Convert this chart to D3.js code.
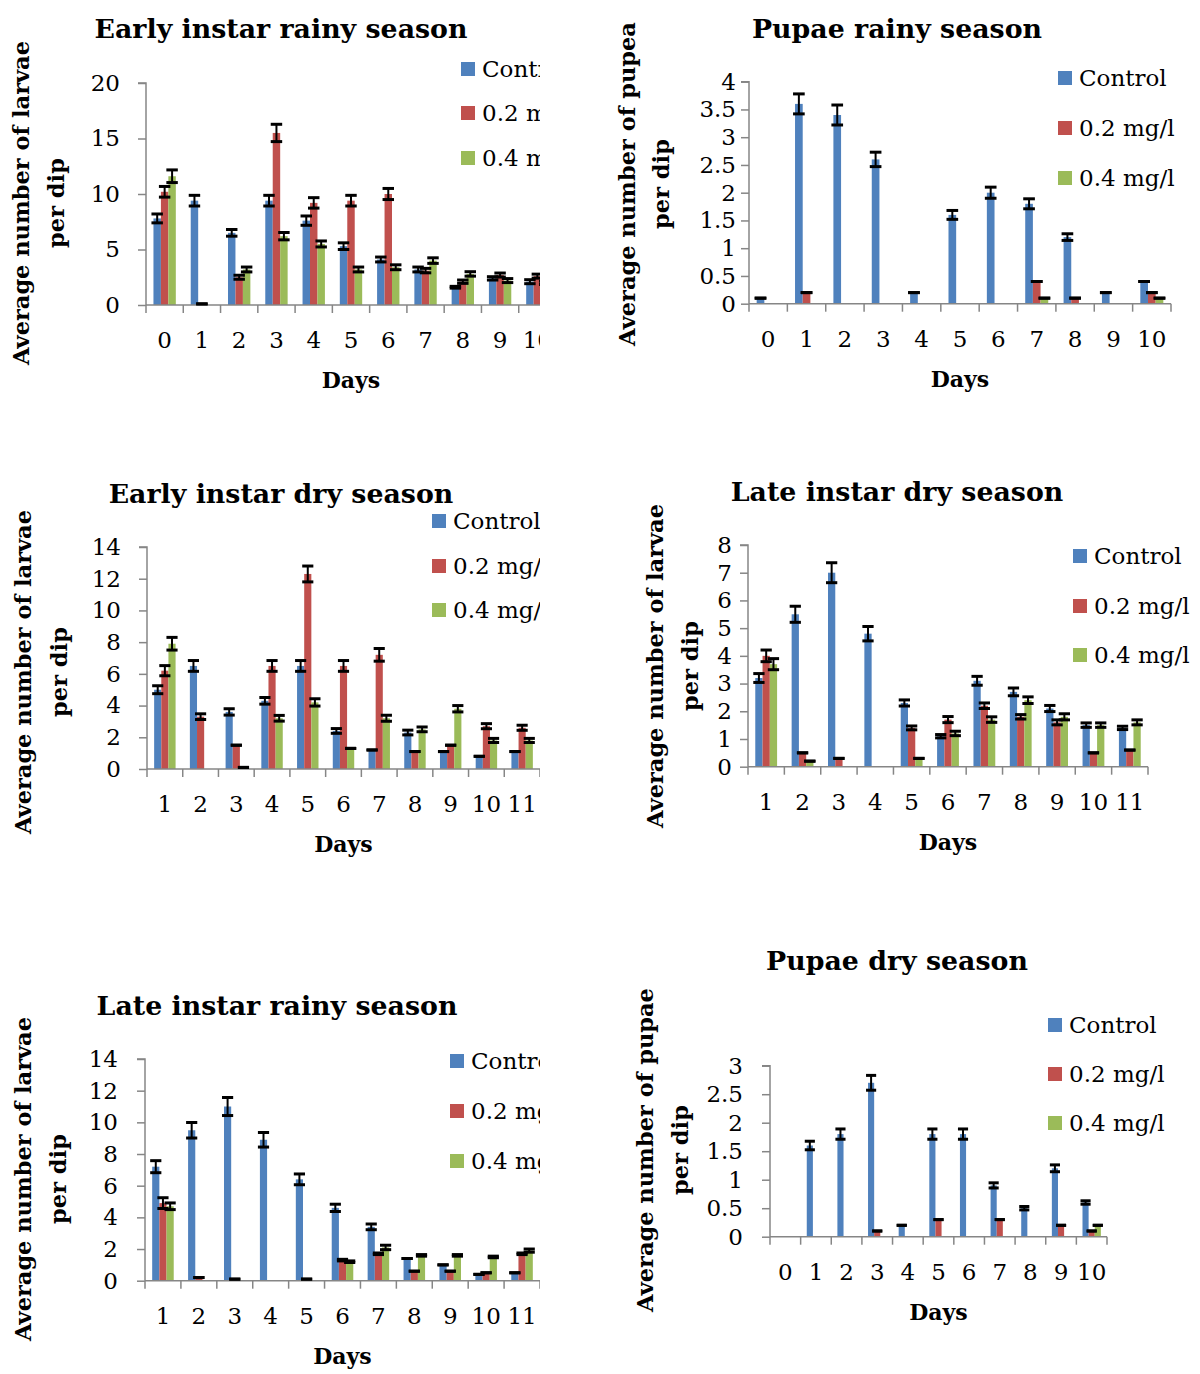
<!DOCTYPE html>
<html><head><meta charset="utf-8">
<script src="https://cdn.jsdelivr.net/npm/d3@7"></script>
<style>body{margin:0;background:#fff}svg{display:block}</style>
</head><body>
<svg id="c" width="1200" height="1374"></svg>
<script>
// ---------- DATA ----------
const seriesNames = ["Control", "0.2 mg/l", "0.4 mg/l"];

const earlyRainyDays = ["0","1","2","3","4","5","6","7","8","9","10"];
const earlyRainyControl = [7.8, 9.4, 6.5, 9.4, 7.6, 5.3, 4.1, 3.2, 1.6, 2.4, 2.1];
const earlyRainyLow     = [10.2, 0.1, 2.5, 15.5, 9.2, 9.4, 10.0, 3.1, 2.1, 2.7, 2.6];
const earlyRainyHigh    = [11.6, 0, 3.2, 6.2, 5.5, 3.2, 3.4, 4.0, 2.8, 2.2, 2.0];
const earlyRainyControlErr = [0.4, 0.48, 0.3, 0.48, 0.42, 0.3, 0.22, 0.22, 0.08, 0.15, 0.18];
const earlyRainyLowErr     = [0.48, 0, 0.18, 0.78, 0.47, 0.48, 0.5, 0.2, 0.15, 0.18, 0.18];
const earlyRainyHighErr    = [0.57, 0, 0.22, 0.33, 0.27, 0.22, 0.22, 0.25, 0.2, 0.18, 0.15];
const earlyRainyTicks = [0, 5, 10, 15, 20];

const pupaeRainyDays = ["0","1","2","3","4","5","6","7","8","9","10"];
const pupaeRainyControl = [0.1, 3.6, 3.4, 2.6, 0.2, 1.6, 2.0, 1.8, 1.2, 0.2, 0.4];
const pupaeRainyLow     = [0, 0.2, 0, 0, 0, 0, 0, 0.4, 0.1, 0, 0.2];
const pupaeRainyHigh    = [0, 0, 0, 0, 0, 0, 0, 0.1, 0, 0, 0.1];
const pupaeRainyControlErr = [0, 0.18, 0.18, 0.13, 0, 0.08, 0.1, 0.09, 0.06, 0, 0];
const pupaeRainyLowErr     = [0, 0, 0, 0, 0, 0, 0, 0, 0, 0, 0];
const pupaeRainyHighErr    = [0, 0, 0, 0, 0, 0, 0, 0, 0, 0, 0];
const pupaeRainyTicks = [0, 0.5, 1, 1.5, 2, 2.5, 3, 3.5, 4];

const earlyDryDays = ["1","2","3","4","5","6","7","8","9","10","11"];
const earlyDryControl = [5.0, 6.5, 3.6, 4.3, 6.5, 2.4, 1.2, 2.3, 1.1, 0.8, 1.1];
const earlyDryLow     = [6.2, 3.3, 1.5, 6.5, 12.3, 6.5, 7.2, 1.1, 1.5, 2.7, 2.6];
const earlyDryHigh    = [7.9, 0, 0.1, 3.2, 4.2, 1.3, 3.2, 2.5, 3.8, 1.8, 1.8];
const earlyDryControlErr = [0.25, 0.34, 0.2, 0.21, 0.34, 0.15, 0, 0.15, 0, 0, 0];
const earlyDryLowErr     = [0.32, 0.18, 0, 0.34, 0.5, 0.34, 0.4, 0, 0, 0.16, 0.16];
const earlyDryHighErr    = [0.4, 0, 0, 0.18, 0.23, 0, 0.19, 0.15, 0.2, 0.13, 0.13];
const earlyDryTicks = [0, 2, 4, 6, 8, 10, 12, 14];

const lateDryDays = ["1","2","3","4","5","6","7","8","9","10","11"];
const lateDryControl = [3.2, 5.5, 7.0, 4.8, 2.3, 1.1, 3.1, 2.7, 2.1, 1.5, 1.4];
const lateDryLow     = [4.0, 0.5, 0.3, 0, 1.4, 1.7, 2.2, 1.8, 1.6, 0.5, 0.6];
const lateDryHigh    = [3.7, 0.2, 0, 0, 0.3, 1.2, 1.7, 2.4, 1.8, 1.5, 1.6];
const lateDryControlErr = [0.16, 0.29, 0.36, 0.26, 0.11, 0.06, 0.16, 0.14, 0.11, 0.08, 0.06];
const lateDryLowErr     = [0.21, 0, 0, 0, 0.07, 0.11, 0.1, 0.08, 0.09, 0, 0];
const lateDryHighErr    = [0.2, 0, 0, 0, 0, 0.08, 0.1, 0.12, 0.11, 0.08, 0.09];
const lateDryTicks = [0, 1, 2, 3, 4, 5, 6, 7, 8];

const lateRainyDays = ["1","2","3","4","5","6","7","8","9","10","11"];
const lateRainyControl = [7.2, 9.5, 11.0, 8.9, 6.4, 4.6, 3.4, 1.4, 1.0, 0.4, 0.5];
const lateRainyLow     = [4.9, 0.2, 0.1, 0, 0.1, 1.3, 1.7, 0.6, 0.6, 0.5, 1.7];
const lateRainyHigh    = [4.7, 0, 0, 0, 0, 1.2, 2.1, 1.6, 1.6, 1.5, 1.9];
const lateRainyControlErr = [0.38, 0.49, 0.57, 0.46, 0.34, 0.23, 0.18, 0, 0, 0, 0];
const lateRainyLowErr     = [0.34, 0, 0, 0, 0, 0.05, 0.05, 0, 0, 0, 0.05];
const lateRainyHighErr    = [0.21, 0, 0, 0, 0, 0.05, 0.14, 0.05, 0.05, 0.05, 0.1];
const lateRainyTicks = [0, 2, 4, 6, 8, 10, 12, 14];

const pupaeDryDays = ["0","1","2","3","4","5","6","7","8","9","10"];
const pupaeDryControl = [0, 1.6, 1.8, 2.7, 0.2, 1.8, 1.8, 0.9, 0.5, 1.2, 0.6];
const pupaeDryLow     = [0, 0, 0, 0.1, 0, 0.3, 0, 0.3, 0, 0.2, 0.1];
const pupaeDryHigh    = [0, 0, 0, 0, 0, 0, 0, 0, 0, 0, 0.2];
const pupaeDryControlErr = [0, 0.075, 0.09, 0.13, 0, 0.09, 0.09, 0.045, 0.03, 0.06, 0.03];
const pupaeDryLowErr     = [0, 0, 0, 0, 0, 0, 0, 0, 0, 0, 0];
const pupaeDryHighErr    = [0, 0, 0, 0, 0, 0, 0, 0, 0, 0, 0];
const pupaeDryTicks = [0, 0.5, 1, 1.5, 2, 2.5, 3];

// ---------- STYLE / LAYOUT ----------
const colors = ["#4F81BD", "#C0504D", "#9BBB59"];
const axisColor = "#868686";
const FONT = "'DejaVu Serif', serif";

const panels = [
  {title:"Early instar rainy season", ytitle:"Average number of larvae",
   days:earlyRainyDays, vals:[earlyRainyControl, earlyRainyLow, earlyRainyHigh],
   errs:[earlyRainyControlErr, earlyRainyLowErr, earlyRainyHighErr], ticks:earlyRainyTicks,
   x0:146, x1:556, y0:305, y1:83, clip:540, titleX:281, titleY:28, yt1:21, yt2:56, ytY:203,
   labGap:26, legX:461, legY:[69,113,158]},
  {title:"Pupae rainy season", ytitle:"Average number of pupea",
   days:pupaeRainyDays, vals:[pupaeRainyControl, pupaeRainyLow, pupaeRainyHigh],
   errs:[pupaeRainyControlErr, pupaeRainyLowErr, pupaeRainyHighErr], ticks:pupaeRainyTicks,
   x0:749, x1:1171, y0:303.7, y1:81.7, clip:1200, titleX:897, titleY:28, yt1:627, yt2:661, ytY:184,
   labGap:13, legX:1058, legY:[78,128,178]},
  {title:"Early instar dry season", ytitle:"Average number of larvae",
   days:earlyDryDays, vals:[earlyDryControl, earlyDryLow, earlyDryHigh],
   errs:[earlyDryControlErr, earlyDryLowErr, earlyDryHighErr], ticks:earlyDryTicks,
   x0:147, x1:540, y0:769, y1:547, clip:540, titleX:281, titleY:493, yt1:23, yt2:59, ytY:672,
   labGap:26, legX:432, legY:[521,566,610]},
  {title:"Late instar dry season", ytitle:"Average number of larvae",
   days:lateDryDays, vals:[lateDryControl, lateDryLow, lateDryHigh],
   errs:[lateDryControlErr, lateDryLowErr, lateDryHighErr], ticks:lateDryTicks,
   x0:748, x1:1148, y0:766.7, y1:545, clip:1192, titleX:897, titleY:491, yt1:655, yt2:690, ytY:666,
   labGap:16, legX:1073, legY:[556,606,655]},
  {title:"Late instar rainy season", ytitle:"Average number of larvae",
   days:lateRainyDays, vals:[lateRainyControl, lateRainyLow, lateRainyHigh],
   errs:[lateRainyControlErr, lateRainyLowErr, lateRainyHighErr], ticks:lateRainyTicks,
   x0:145, x1:540, y0:1280.7, y1:1059, clip:540, titleX:277, titleY:1005, yt1:23, yt2:58, ytY:1179,
   labGap:27, legX:450, legY:[1061,1111,1161]},
  {title:"Pupae dry season", ytitle:"Average number of pupae",
   days:pupaeDryDays, vals:[pupaeDryControl, pupaeDryLow, pupaeDryHigh],
   errs:[pupaeDryControlErr, pupaeDryLowErr, pupaeDryHighErr], ticks:pupaeDryTicks,
   x0:770, x1:1107, y0:1236.7, y1:1065.7, clip:1200, titleX:897, titleY:960, yt1:645, yt2:680, ytY:1150,
   labGap:27, legX:1048, legY:[1025,1074,1123]}
];

const svg = d3.select("#c");
const defs = svg.append("defs");

panels.forEach((p, pi) => {
  const clipId = "clip" + pi;
  const left = p.x0 < 600 ? 0 : 600;
  defs.append("clipPath").attr("id", clipId)
    .append("rect").attr("x", left).attr("y", 0).attr("width", p.clip - left).attr("height", 1374);
  const g = svg.append("g").attr("clip-path", `url(#${clipId})`);

  const yMax = p.ticks[p.ticks.length - 1];
  const y = d3.scaleLinear().domain([0, yMax]).range([p.y0, p.y1]);
  const x = d3.scaleBand().domain(p.days).range([p.x0, p.x1]).padding(0);
  const bw = x.bandwidth();
  const xs = d3.scaleBand().domain(seriesNames).range([bw * 0.2, bw * 0.8]).padding(0);
  const barW = xs.bandwidth();

  // title
  g.append("text").attr("x", p.titleX).attr("y", p.titleY)
    .attr("text-anchor", "middle").attr("dominant-baseline", "central")
    .attr("font-family", FONT).attr("font-weight", "bold").attr("font-size", 26.8)
    .text(p.title);

  // y axis title (two lines)
  [[p.ytitle, p.yt1], ["per dip", p.yt2]].forEach(([t, xx]) => {
    g.append("text").attr("transform", `translate(${xx},${p.ytY}) rotate(-90)`)
      .attr("text-anchor", "middle").attr("dominant-baseline", "central")
      .attr("font-family", FONT).attr("font-weight", "bold").attr("font-size", 22.5)
      .text(t);
  });

  // bars
  seriesNames.forEach((s, si) => {
    g.append("g").selectAll("rect").data(p.days).join("rect")
      .attr("x", d => x(d) + xs(s))
      .attr("y", (d, i) => y(p.vals[si][i]))
      .attr("width", barW)
      .attr("height", (d, i) => p.y0 - y(p.vals[si][i]))
      .attr("fill", colors[si]);
  });

  // y axis
  const yAxis = d3.axisLeft(y).tickValues(p.ticks).tickSize(8).tickPadding(p.labGap - 8)
    .tickFormat(d => String(d));
  const ya = g.append("g").attr("transform", `translate(${p.x0},0)`).call(yAxis);
  ya.select(".domain").attr("stroke", axisColor).attr("stroke-width", 1.5)
    .attr("d", `M-8,${p.y1}H0V${p.y0}`);
  ya.selectAll(".tick line").attr("stroke", axisColor).attr("stroke-width", 1.5);
  ya.selectAll(".tick text").attr("font-family", FONT).attr("font-size", 23).attr("fill", "#000");

  // x axis
  const xAxis = d3.axisBottom(x).tickSize(0).tickPadding(0);
  const xa = g.append("g").attr("transform", `translate(0,${p.y0})`).call(xAxis);
  xa.select(".domain").attr("stroke", axisColor).attr("stroke-width", 1.5)
    .attr("d", `M${p.x0},0H${p.x1}`);
  xa.selectAll(".tick text").attr("font-family", FONT).attr("font-size", 23).attr("fill", "#000")
    .attr("dy", null).attr("y", 35).attr("dominant-baseline", "central");
  // category boundary ticks
  const bounds = p.days.map(d => x(d)).concat([p.x1]);
  xa.append("g").selectAll("line").data(bounds).join("line")
    .attr("x1", d => d).attr("x2", d => d).attr("y1", 0).attr("y2", 8)
    .attr("stroke", axisColor).attr("stroke-width", 1.5);

  // x title
  g.append("text").attr("x", (p.x0 + p.x1) / 2).attr("y", p.y0 + 75)
    .attr("text-anchor", "middle").attr("dominant-baseline", "central")
    .attr("font-family", FONT).attr("font-weight", "bold").attr("font-size", 22)
    .text("Days");

  // error bars
  seriesNames.forEach((s, si) => {
    const eg = g.append("g");
    p.days.forEach((d, i) => {
      const v = p.vals[si][i];
      if (v <= 0) return;
      const e = p.errs[si][i];
      const cx = x(d) + xs(s) + barW / 2;
      const half = (barW + 4) / 2;
      eg.append("line").attr("x1", cx).attr("x2", cx).attr("y1", y(v + e)).attr("y2", y(v - e))
        .attr("stroke", "#000").attr("stroke-width", 2);
      [v + e, v - e].forEach(yy => {
        eg.append("line").attr("x1", cx - half).attr("x2", cx + half)
          .attr("y1", y(yy)).attr("y2", y(yy))
          .attr("stroke", "#000").attr("stroke-width", 3);
      });
    });
  });

  // legend
  seriesNames.forEach((s, si) => {
    const ly = p.legY[si];
    g.append("rect").attr("x", p.legX).attr("y", ly - 7).attr("width", 14).attr("height", 14)
      .attr("fill", colors[si]);
    g.append("text").attr("x", p.legX + 21).attr("y", ly)
      .attr("dominant-baseline", "central")
      .attr("font-family", FONT).attr("font-size", 23).text(s);
  });
});
</script>
</body></html>
